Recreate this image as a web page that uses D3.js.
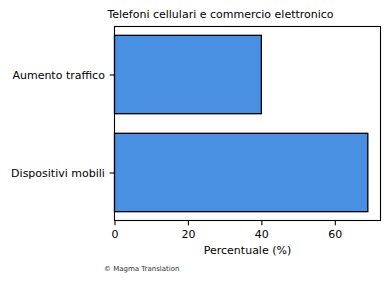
<!DOCTYPE html>
<html>
<head>
<meta charset="utf-8">
<script src="https://cdn.jsdelivr.net/npm/d3@7"></script>
<style>
  body { margin: 0; background: #fff; }
  text { font-family: "DejaVu Sans", sans-serif; fill: #000; }
</style>
</head>
<body>
<svg id="chart" width="390" height="282"></svg>
<script>
// data
const categories = ["Dispositivi mobili", "Aumento traffico"]
const values = [69, 40]
const xTicks = [0, 20, 40, 60]

const svg = d3.select("#chart")
const plotL = 114.5, plotR = 380.5, plotT = 26.5, plotB = 220.5
const fs = "11px"

const x = d3.scaleLinear().domain([0, 72.45]).range([plotL, plotR])
// matplotlib style: categories at 0,1, bar height 0.8, 5% margins
const y = d3.scaleLinear().domain([-0.49, 1.49]).range([plotB, plotT])

svg.append("g").selectAll("rect").data(values).join("rect")
  .attr("x", x(0))
  .attr("y", function(d, i){ return y(i + 0.4) })
  .attr("width", function(d){ return x(d) - x(0) })
  .attr("height", function(d, i){ return y(i - 0.4) - y(i + 0.4) })
  .attr("fill", "#4a90e2")
  .attr("stroke", "#000")
  .attr("stroke-width", 1.3)

// frame
svg.append("rect").attr("x", plotL).attr("y", plotT)
  .attr("width", plotR - plotL).attr("height", plotB - plotT)
  .attr("fill", "none").attr("stroke", "#000").attr("stroke-width", 1.1)

const xAxis = d3.axisBottom(x).tickValues(xTicks).tickSize(4.8).tickPadding(4.8).tickFormat(d3.format("d"))
const gx = svg.append("g").attr("transform", "translate(0," + plotB + ")").call(xAxis)
gx.select(".domain").remove()
gx.selectAll("line").attr("stroke", "#000").attr("stroke-width", 1.1)
gx.selectAll("text").style("font-size", fs).style("font-family", "DejaVu Sans")

const yAxis = d3.axisLeft(y).tickValues([0, 1]).tickSize(4.8).tickPadding(4.8)
  .tickFormat(function(d){ return categories[d] })
const gy = svg.append("g").attr("transform", "translate(" + plotL + ",0)").call(yAxis)
gy.select(".domain").remove()
gy.selectAll("line").attr("stroke", "#000").attr("stroke-width", 1.1)
gy.selectAll("text").style("font-size", fs).style("font-family", "DejaVu Sans")

svg.append("text").attr("x", (plotL + plotR) / 2 - 27).attr("y", 18)
  .attr("text-anchor", "middle").style("font-size", fs)
  .text("Telefoni cellulari e commercio elettronico")

svg.append("text").attr("x", (plotL + plotR) / 2).attr("y", 254)
  .attr("text-anchor", "middle").style("font-size", fs)
  .text("Percentuale (%)")

svg.append("text").attr("x", 104).attr("y", 271)
  .style("font-size", "7px").style("fill", "#333")
  .text("© Magma Translation")
</script>
</body>
</html>
